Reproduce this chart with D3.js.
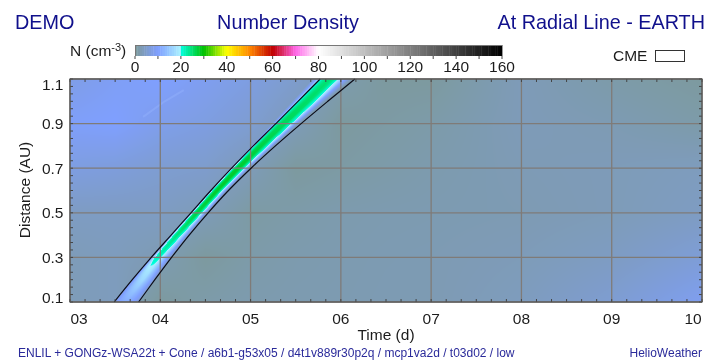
<!DOCTYPE html>
<html>
<head>
<meta charset="utf-8">
<script src="https://cdn.jsdelivr.net/npm/d3@7"></script>
<style>
  html, body { margin: 0; padding: 0; background: #fff; }
  #chart { position: relative; width: 720px; height: 360px; overflow: hidden; filter: blur(0.35px); }
  canvas, svg { position: absolute; left: 0; top: 0; }
  text { font-family: "Liberation Sans", Arial, sans-serif; }
</style>
</head>
<body>
<div id="chart"></div>
<script>
// Colour table of the density bar
const colorValues = [0, 10, 19.5, 20, 30, 40, 50, 60, 70, 80, 160];
const colorStops = ["#7d9a9a", "#7f9fff", "#aaeeff", "#00ffe0", "#00c000", "#ffff00", "#ff8800", "#c00000", "#ff66e8", "#ffffff", "#000000"];
const colorTicks = [0, 20, 40, 60, 80, 100, 120, 140, 160];

// Axis ticks
const dayTicks = [3, 4, 5, 6, 7, 8, 9, 10];
const dayLabels = ["03", "04", "05", "06", "07", "08", "09", "10"];
const distTicks = [0.1, 0.3, 0.5, 0.7, 0.9, 1.1];

// Ambient density, rows are distances, columns are times
const gridTimes = [3, 3.5, 4, 4.5, 5, 5.5, 6, 6.5, 7, 8, 9, 10];
const gridDists = [0.1, 0.3, 0.5, 0.7, 0.9, 1.1];
const ambientDensity = [
    [3.0, 3.5, 0.5, 1.5, 2.0, 2.2, 2.3, 2.5, 2.5, 3.5, 5.5, 8.5],
    [3.0, 3.5, 2.5, 0.5, 1.5, 2.0, 2.2, 2.4, 2.5, 3.0, 4.0, 6.0],
    [4.0, 4.0, 4.0, 3.0, 1.0, 1.5, 2.0, 2.2, 2.3, 2.5, 3.0, 4.0],
    [7.0, 6.5, 5.5, 5.0, 3.0, 0.5, 1.0, 1.5, 2.0, 2.7, 3.0, 3.5],
    [9.5, 10.0, 8.0, 7.0, 5.5, 3.0, 0.5, 1.0, 1.5, 3.0, 2.5, 1.5],
    [7.5, 9.0, 10.0, 8.5, 7.0, 5.0, 2.0, 0.5, 0.5, 3.0, 1.5, 0.5]
];

// CME boundaries: time at which each edge reaches each distance
const cmeDists = [0.1, 0.2, 0.3, 0.4, 0.5, 0.6, 0.7, 0.8, 0.9, 1.0, 1.1];
const cmeFront = [3.49, 3.69, 3.90, 4.12, 4.34, 4.56, 4.79, 5.03, 5.28, 5.525, 5.77];
const cmeBack = [3.76, 3.94, 4.125, 4.32, 4.53, 4.755, 5.005, 5.275, 5.56, 5.855, 6.155];

// Density across the CME, 0 is the front edge and 1 the back edge
const crossFractions = [-0.3, -0.2, -0.1, -0.05, 0, 0.05, 0.1, 0.2, 0.3, 0.4, 0.5, 0.6, 0.7, 0.8, 0.9, 1.0, 1.1];
const crossDensity = [
    [0, 0, 0, 0, 5, 8, 9.5, 10.5, 11, 11.5, 11.5, 11, 10.5, 9.5, 8, 4, 0],
    [0, 0, 0, 0, 6, 9, 11, 14, 16, 17, 17, 15, 13, 11, 8, 3, 0],
    [0, 0, 0, 0, 7, 11, 15, 20.5, 22, 21, 19, 16, 13, 10, 7, 2, 0],
    [0, 0, 0, 0, 8, 13, 18, 23, 24.5, 24, 22, 19, 15, 10, 6, 0, 0],
    [0, 0, 0, 0, 8, 13, 18, 25, 27, 27, 25, 21, 17, 11, 5, 0, 0],
    [0, 0, 0, 3, 10, 16, 20.5, 26, 28, 28, 26, 21.5, 17, 10, 4, 0, 0],
    [0, 0, 2, 5, 12, 18, 21, 27, 28, 28, 26, 22, 17, 10, 4, 0, 0],
    [0, 0, 4, 8, 15, 19.5, 22, 26, 27, 27, 25, 21.5, 17, 10, 4, 0, 0],
    [0, 3, 7, 12, 19, 22, 24, 26, 26, 26, 23, 20.5, 14, 8, 3, 0, 0],
    [0, 4, 9, 14, 19.5, 21, 23, 25, 25.5, 25, 22, 19, 12, 7, 3, 0, 0],
    [0, 5, 10, 15, 19.5, 21, 23, 24.5, 25, 23.5, 20.5, 16, 11, 7, 3, 0, 0]
];

// Faint bright streak in the upper left
const streakTimes = [3.81, 4.05, 4.26];
const streakDists = [0.93, 1.0, 1.05];

const width = 720, height = 360;
const plot = { left: 70, right: 702, top: 79, bottom: 302 };
const bar = { left: 135, right: 502, top: 45, bottom: 56 };
const ink = "#1c1c1c", navy = "#10108c", small = "#2a2a9a";

const x = d3.scaleLinear().domain([3, 10]).range([plot.left, plot.right]);
const y = d3.scaleLinear().domain([0.1, 1.1]).range([plot.bottom, plot.top]);
const barX = d3.scaleLinear().domain([0, 160]).range([bar.left, bar.right]);
const color = d3.scaleLinear().domain(colorValues).range(colorStops);

// position of v inside a sorted array, as index + fraction
function locate(arr, v) {
    let i = d3.bisectRight(arr, v) - 1;
    i = Math.max(0, Math.min(arr.length - 2, i));
    return [i, Math.max(0, Math.min(1, (v - arr[i]) / (arr[i + 1] - arr[i])))];
}

function lookup(table, r, ri, c, ci) {
    const a = table[r][c] * (1 - ci) + table[r][c + 1] * ci;
    const b = table[r + 1][c] * (1 - ci) + table[r + 1][c + 1] * ci;
    return a * (1 - ri) + b * ri;
}

function densityAt(t, d) {
    const [gr, grf] = locate(gridDists, d);
    const [gc, gcf] = locate(gridTimes, t);
    const ambient = lookup(ambientDensity, gr, grf, gc, gcf);
    const [cr, crf] = locate(cmeDists, d);
    const front = cmeFront[cr] * (1 - crf) + cmeFront[cr + 1] * crf;
    const back = cmeBack[cr] * (1 - crf) + cmeBack[cr + 1] * crf;
    const f = (t - front) / (back - front);
    if (f <= crossFractions[0] || f >= crossFractions[crossFractions.length - 1]) return ambient;
    const [pc, pcf] = locate(crossFractions, f);
    return Math.max(ambient, lookup(crossDensity, cr, crf, pc, pcf));
}

const chart = d3.select("#chart");

// Heat map goes on a canvas under the svg
const canvas = chart.append("canvas")
    .attr("width", plot.right - plot.left)
    .attr("height", plot.bottom - plot.top)
    .style("left", plot.left + "px")
    .style("top", plot.top + "px");
const ctx = canvas.node().getContext("2d");
const img = ctx.createImageData(plot.right - plot.left, plot.bottom - plot.top);
for (let j = 0; j < img.height; j++) {
    for (let i = 0; i < img.width; i++) {
        const c = d3.rgb(color(densityAt(x.invert(plot.left + i + 0.5), y.invert(plot.top + j + 0.5))));
        const k = (j * img.width + i) * 4;
        img.data[k] = c.r; img.data[k + 1] = c.g; img.data[k + 2] = c.b; img.data[k + 3] = 255;
    }
}
ctx.putImageData(img, 0, 0);

const svg = chart.append("svg").attr("width", width).attr("height", height);

// Titles
svg.append("text").attr("x", 15).attr("y", 29).attr("fill", navy).style("font-size", "19.8px").text("DEMO");
svg.append("text").attr("x", 288).attr("y", 29).attr("fill", navy).attr("text-anchor", "middle").style("font-size", "19.8px").text("Number Density");
svg.append("text").attr("x", 705).attr("y", 29).attr("fill", navy).attr("text-anchor", "end").style("font-size", "19.8px").text("At Radial Line - EARTH");

// Colour bar
const barG = svg.append("g");
barG.selectAll("rect").data(d3.range(0, 160)).join("rect")
    .attr("x", d => barX(d))
    .attr("y", bar.top)
    .attr("width", d => barX(d + 1) - barX(d) + 0.4)
    .attr("height", bar.bottom - bar.top)
    .attr("fill", d => color(d + 0.5));
barG.append("line").attr("x1", bar.left).attr("x2", bar.right).attr("y1", bar.top + 0.5).attr("y2", bar.top + 0.5).attr("stroke", "#777");
barG.append("line").attr("x1", bar.left + 0.5).attr("x2", bar.left + 0.5).attr("y1", bar.top).attr("y2", bar.bottom).attr("stroke", "#777");
barG.selectAll(".btick").data(d3.range(0, 161, 10)).join("line")
    .attr("class", "btick")
    .attr("x1", d => barX(d)).attr("x2", d => barX(d))
    .attr("y1", bar.bottom).attr("y2", bar.bottom + 3)
    .attr("stroke", "#444");
barG.selectAll(".blabel").data(colorTicks).join("text")
    .attr("class", "blabel")
    .attr("x", d => barX(d)).attr("y", 71.5)
    .attr("text-anchor", "middle").attr("fill", ink).style("font-size", "15.5px")
    .text(d => d);

const nLabel = svg.append("text").attr("x", 70).attr("y", 56).attr("fill", ink).style("font-size", "15.5px");
nLabel.append("tspan").text("N (cm");
nLabel.append("tspan").attr("dy", -5).style("font-size", "11px").text("-3");
nLabel.append("tspan").attr("dy", 5).text(")");

// CME legend
svg.append("text").attr("x", 613).attr("y", 61).attr("fill", ink).style("font-size", "15.5px").text("CME");
svg.append("rect").attr("x", 655.5).attr("y", 50.5).attr("width", 29).attr("height", 11)
    .attr("fill", "#fff").attr("stroke", "#333").attr("stroke-width", 1);

const plotG = svg.append("g");

// Streak sits on the heat map, under everything else
plotG.append("path")
    .attr("d", d3.line().x(d => x(d)).y((d, i) => y(streakDists[i]))(streakTimes))
    .attr("fill", "none").attr("stroke", "#9bb8ff").attr("stroke-width", 2).attr("stroke-opacity", 0.35);

// Grid lines
plotG.selectAll(".vgrid").data(dayTicks).join("line")
    .attr("class", "vgrid")
    .attr("x1", d => x(d)).attr("x2", d => x(d))
    .attr("y1", plot.top).attr("y2", plot.bottom)
    .attr("stroke", "#7f7b78").attr("stroke-width", 1.3);
plotG.selectAll(".hgrid").data(distTicks).join("line")
    .attr("class", "hgrid")
    .attr("x1", plot.left).attr("x2", plot.right)
    .attr("y1", d => y(d)).attr("y2", d => y(d))
    .attr("stroke", "#7f7b78").attr("stroke-width", 1.3);

// CME edges
const cmeLine = d3.line().y((d, i) => y(cmeDists[i])).x(d => x(d)).curve(d3.curveCatmullRom);
[cmeFront, cmeBack].forEach(function(edge) {
    plotG.append("path").attr("d", cmeLine(edge))
        .attr("fill", "none").attr("stroke", "#0c0c18").attr("stroke-width", 1.2);
});

// Minor ticks, six to a division
const minorX = d3.range(0, 43).map(i => 3 + i / 6);
const minorY = d3.range(0, 31).map(i => 0.1 + i / 30);
plotG.selectAll(".xtb").data(minorX).join("line").attr("class", "xtb")
    .attr("x1", d => x(d)).attr("x2", d => x(d)).attr("y1", plot.bottom).attr("y2", plot.bottom - 3)
    .attr("stroke", "#444");
plotG.selectAll(".xtt").data(minorX).join("line").attr("class", "xtt")
    .attr("x1", d => x(d)).attr("x2", d => x(d)).attr("y1", plot.top).attr("y2", plot.top + 3)
    .attr("stroke", "#444");
plotG.selectAll(".ytl").data(minorY).join("line").attr("class", "ytl")
    .attr("x1", plot.left).attr("x2", plot.left + 3).attr("y1", d => y(d)).attr("y2", d => y(d))
    .attr("stroke", "#444");
plotG.selectAll(".ytr").data(minorY).join("line").attr("class", "ytr")
    .attr("x1", plot.right).attr("x2", plot.right - 3).attr("y1", d => y(d)).attr("y2", d => y(d))
    .attr("stroke", "#444");

// Frame
plotG.append("rect").attr("x", plot.left).attr("y", plot.top)
    .attr("width", plot.right - plot.left).attr("height", plot.bottom - plot.top)
    .attr("fill", "none").attr("stroke", "#555").attr("stroke-width", 1.2);

// Axis labels, the end labels are pulled inside the plot range
svg.selectAll(".xlabel").data(dayTicks).join("text").attr("class", "xlabel")
    .attr("x", (d, i) => i === 0 ? x(d) + 9 : i === dayTicks.length - 1 ? x(d) - 9 : x(d))
    .attr("y", 324).attr("text-anchor", "middle").attr("fill", ink).style("font-size", "15.5px")
    .text((d, i) => dayLabels[i]);
svg.selectAll(".ylabel").data(distTicks).join("text").attr("class", "ylabel")
    .attr("x", 63.5)
    .attr("y", (d, i) => i === 0 ? y(d) + 1 : i === distTicks.length - 1 ? y(d) + 10.5 : y(d) + 5.5)
    .attr("text-anchor", "end").attr("fill", ink).style("font-size", "15.5px")
    .text(d => d.toFixed(1));
svg.append("text").attr("x", 386).attr("y", 340).attr("text-anchor", "middle").attr("fill", ink).style("font-size", "15.5px").text("Time (d)");
svg.append("text").attr("transform", "translate(30,190) rotate(-90)").attr("text-anchor", "middle").attr("fill", ink).style("font-size", "15.5px").text("Distance (AU)");

// Footer
svg.append("text").attr("x", 18).attr("y", 356.5).attr("fill", small).style("font-size", "12px").text("ENLIL + GONGz-WSA22t + Cone / a6b1-g53x05 / d4t1v889r30p2q / mcp1va2d / t03d02 / low");
svg.append("text").attr("x", 702).attr("y", 356.5).attr("fill", small).attr("text-anchor", "end").style("font-size", "12px").text("HelioWeather");
</script>
</body>
</html>
